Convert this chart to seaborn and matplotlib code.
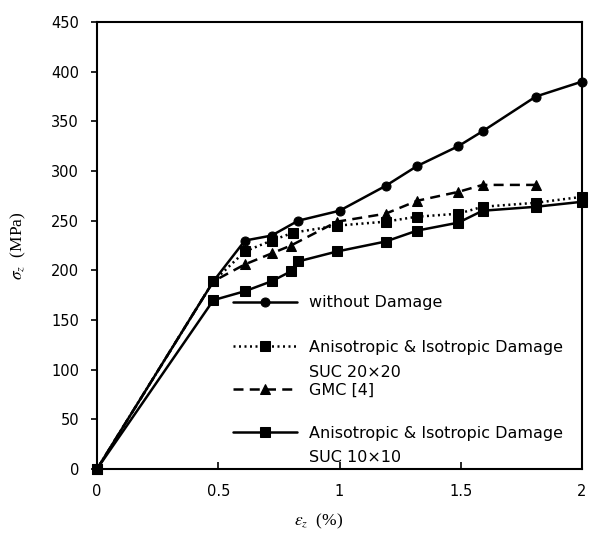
import numpy as np
import pandas as pd
import seaborn as sns
import matplotlib
matplotlib.use("Agg")
import matplotlib.pyplot as plt

# ---- data ----
x_nodmg = [0, 0.48, 0.61, 0.72, 0.83, 1.0, 1.19, 1.32, 1.49, 1.59, 1.81, 2.0]
y_nodmg = [0, 189, 230, 235, 250, 260, 285, 305, 325, 340, 375, 390]

x_suc20 = [0, 0.48, 0.61, 0.72, 0.81, 0.99, 1.19, 1.32, 1.49, 1.59, 1.81, 2.0]
y_suc20 = [0, 189, 219, 230, 238, 245, 249, 254, 257, 264, 268, 274]

x_gmc = [0, 0.48, 0.61, 0.72, 0.80, 0.99, 1.19, 1.32, 1.49, 1.59, 1.81]
y_gmc = [0, 189, 206, 217, 225, 249, 257, 270, 279, 286, 286]

x_suc10 = [0, 0.48, 0.61, 0.72, 0.80, 0.83, 0.99, 1.19, 1.32, 1.49, 1.59, 1.81, 2.0]
y_suc10 = [0, 170, 179, 189, 199, 209, 219, 229, 240, 248, 260, 264, 269]

labels = ["without Damage",
          "Anisotropic & Isotropic Damage",
          "GMC [4]",
          "Anisotropic & Isotropic Damage"]
sub_labels = ["SUC 20\u00d720", "SUC 10\u00d710"]

x_ticks = [0, 0.5, 1, 1.5, 2]
x_ticklabels = ["0", "0.5", "1", "1.5", "2"]
y_ticks = [0, 50, 100, 150, 200, 250, 300, 350, 400, 450]

sns.set_theme(style="white")
plt.rcParams['font.family'] = ['DejaVu Sans']
plt.rcParams['mathtext.fontset'] = 'stix'
plt.rcParams['text.color'] = 'black'
plt.rcParams['axes.labelcolor'] = 'black'

fig = plt.figure(figsize=(5.89, 5.34), dpi=100)
ax = fig.add_axes([97/589, 1-469/534, (582-97)/589, (469-22)/534])

series = [
    (x_nodmg, y_nodmg, labels[0], '-', 'o', 6.5),
    (x_suc20, y_suc20, labels[1], (0, (0.8, 1.4)), 's', 7),
    (x_gmc, y_gmc, labels[2], (0, (4, 2.5)), '^', 7),
    (x_suc10, y_suc10, labels[3], '-', 's', 7),
]
for xs, ys, lab, ls, mk, ms in series:
    df = pd.DataFrame({"x": xs, "y": ys})
    sns.lineplot(data=df, x="x", y="y", ax=ax, color="black", linestyle=ls,
                 marker=mk, markersize=ms, linewidth=1.8, label=lab,
                 markeredgecolor="black", sort=False, clip_on=False)

ax.set_xlim(0, 2)
ax.set_ylim(0, 450)
ax.set_xticks(x_ticks)
ax.set_xticklabels(x_ticklabels)
ax.set_yticks(y_ticks)
ax.tick_params(axis='x', direction='in', length=5, width=1.2, labelsize=10.5, pad=11,
               colors='black', labelcolor='black', bottom=True)
ax.tick_params(axis='y', direction='out', length=4, width=1.2, labelsize=10.5, pad=9,
               colors='black', labelcolor='black', left=True)
for sp in ax.spines.values():
    sp.set_color('black')
    sp.set_linewidth(1.5)

ax.set_xlabel(r"$\varepsilon_z$  (%)", fontsize=12.5, family='Liberation Serif', color='black')
ax.xaxis.set_label_coords(0.456, -0.095)
ax.set_ylabel(r"$\sigma_z$  (MPa)", fontsize=12.5, family='Liberation Serif', color='black')
ax.yaxis.set_label_coords(-0.142, 0.5)

handles, _ = ax.get_legend_handles_labels()
if ax.get_legend() is not None:
    ax.get_legend().remove()
leg_y = [0.3714, 0.2729, 0.1767, 0.0805]
legs = []
for h, lab, yy in zip(handles, labels, leg_y):
    lg = ax.legend([h], [lab], loc='center left', bbox_to_anchor=(0.2804, yy),
                   frameon=False, fontsize=11.5, handlelength=4.0, numpoints=1,
                   handletextpad=0.75, borderaxespad=0, borderpad=0, labelcolor='black')
    legs.append(lg)
for lg in legs[:-1]:
    ax.add_artist(lg)
for txt, yy in zip(sub_labels, [0.217, 0.0268]):
    ax.text(0.4371, yy, txt, transform=ax.transAxes, ha='left', va='center',
            fontsize=11.5, color='black')
ax.grid(False)

fig.savefig("out.png", dpi=100)
